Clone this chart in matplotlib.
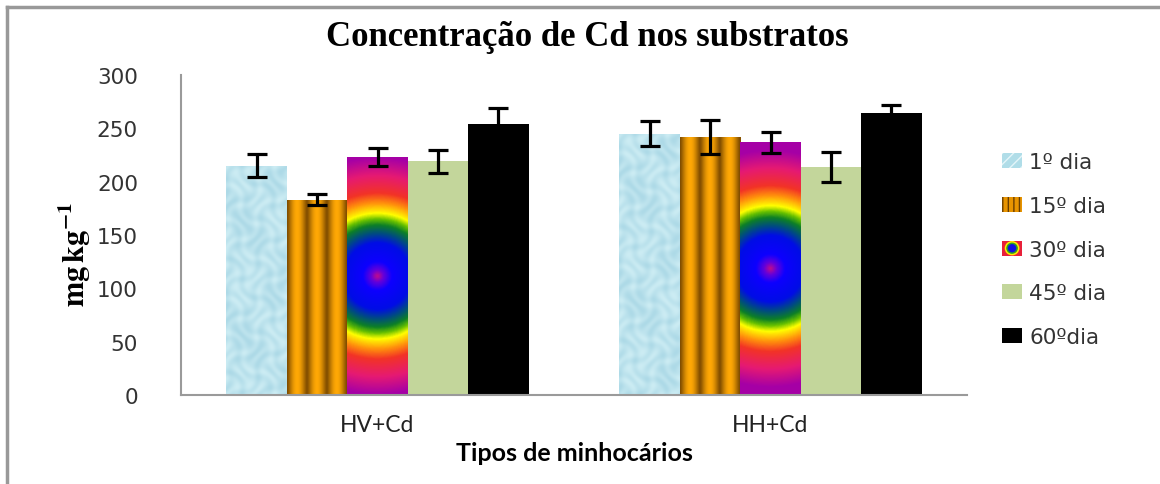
import numpy as np
import matplotlib
matplotlib.use("Agg")
import matplotlib.pyplot as plt
from matplotlib.colors import LinearSegmentedColormap
from matplotlib.patches import Patch, Rectangle, Ellipse
from matplotlib.legend_handler import HandlerBase
from matplotlib.lines import Line2D

# data
grupos = ["HV+Cd", "HH+Cd"]
dias = ["1º dia", "15º dia", "30º dia", "45º dia", "60ºdia"]
media = {
    "1º dia":  [215, 245],
    "15º dia": [183, 242],
    "30º dia": [223, 237],
    "45º dia": [219, 214],
    "60ºdia":  [254, 264],
}
erro = {
    "1º dia":  [11, 12],
    "15º dia": [5, 16],
    "30º dia": [8.5, 10],
    "45º dia": [11, 14],
    "60ºdia":  [15, 8],
}
yticks = [0, 50, 100, 150, 200, 250, 300]

plt.rcParams['mathtext.fontset'] = 'stix'

fig = plt.figure(figsize=(11.6, 4.85), dpi=100)
ax = fig.add_axes([181/1160, 1-396/485, 786/1160, 320/485])
ax.set_xlim(-0.5, 1.5)
ax.set_ylim(0, 300)

largura = 0.1537
x = np.arange(len(grupos))
cores = ["#b7e2ec", "#f0a000", "#e0206a", "#c3d69b", "#000000"]

# px per data unit
ppx = 786/2.0
ppy = 320/300.0

rainbow = LinearSegmentedColormap.from_list("rb", [
    (0.00, (0.75, 0.05, 0.55)),
    (0.05, (0.40, 0.00, 0.85)),
    (0.12, (0.05, 0.00, 1.00)),
    (0.28, (0.00, 0.05, 0.90)),
    (0.36, (0.00, 0.30, 0.50)),
    (0.43, (0.05, 0.50, 0.15)),
    (0.48, (0.40, 0.75, 0.00)),
    (0.53, (1.00, 1.00, 0.00)),
    (0.62, (1.00, 0.55, 0.05)),
    (0.70, (0.95, 0.20, 0.15)),
    (0.85, (0.90, 0.10, 0.45)),
    (1.00, (0.65, 0.00, 0.65)),
])


def textura(k, x0, x1, h):
    nx = int((x1-x0)*ppx)
    ny = max(int(h*ppy), 2)
    u = np.arange(nx)[None, :] + 0.5
    v = np.arange(ny)[:, None] + 0.5  # from top
    u = np.repeat(u, ny, 0)
    v = np.repeat(v, nx, 1)
    if k == 0:
        t = np.sin(u/3.5 + 2*np.sin(v/6.0)) * np.cos(v/4.5 + 1.5*np.sin(u/5.0))
        base = np.array([0.74, 0.89, 0.93])
        img = base[None, None, :] + 0.06*t[:, :, None]*np.array([1, 0.6, 0.4])
    elif k == 1:
        s = 0.5 + 0.5*np.cos(2*np.pi*(u - 10)/19.5)
        dark = np.array([0.50, 0.30, 0.00])
        lite = np.array([1.00, 0.66, 0.02])
        img = dark + (lite-dark)*s[:, :, None]**0.6
    else:
        cx = nx/2.0
        cy = ny/2.0
        r = np.hypot(u-cx, v-cy)/118.0
        img = rainbow(np.clip(r, 0, 1))[:, :, :3]
    return np.clip(img, 0, 1)


for i, d in enumerate(dias):
    pos = x + (i-2)*largura
    barras = ax.bar(pos, media[d], largura, color=cores[i], zorder=2, linewidth=0)
    if i in (0, 1, 2):
        for b in barras:
            x0 = b.get_x()
            x1 = x0 + b.get_width()
            h = b.get_height()
            im = ax.imshow(textura(i, x0, x1, h), extent=(x0, x1, 0, h),
                           aspect='auto', interpolation='bilinear', zorder=2.5)
            im.set_clip_path(b)
    ax.errorbar(pos, media[d], yerr=erro[d], fmt='none', ecolor='black',
                elinewidth=2.3, capsize=7, capthick=2.3, zorder=4)

ax.set_xlim(-0.5, 1.5)
ax.set_ylim(0, 300)

for s in ["top", "right"]:
    ax.spines[s].set_visible(False)
for s in ["left", "bottom"]:
    ax.spines[s].set_color("#9a9a9a")
    ax.spines[s].set_linewidth(1.5)

ax.set_yticks(yticks)
ax.set_yticklabels([str(t) for t in yticks], fontsize=15.5, color="#333333")
ax.tick_params(axis='y', length=0, pad=31)
ax.set_xticks(x)
ax.set_xticklabels(grupos, fontsize=16.5, color="#222222", family="Lato")
ax.tick_params(axis='x', length=0, pad=14)
ax.set_xlabel("Tipos de minhocários", fontsize=18, fontweight='bold', family="Lato", labelpad=4)


class Arco(HandlerBase):
    def create_artists(self, legend, orig_handle, xdescent, ydescent,
                       width, height, fontsize, trans):
        cx = width/2 - xdescent
        cy = height/2 - ydescent
        arts = [Rectangle((-xdescent, -ydescent), width, height, facecolor="#e8203a",
                          edgecolor='none', transform=trans)]
        for f, c in [(0.95, "#ffee00"), (0.75, "#30a020"), (0.55, "#1010e0")]:
            arts.append(Ellipse((cx, cy), width*f*0.8, height*f, facecolor=c,
                                edgecolor='none', transform=trans))
        return arts


class Marca(Patch):
    pass


handles = [
    Patch(facecolor="#b0dde8", edgecolor="#e4f5f9", hatch="///", linewidth=0),
    Patch(facecolor="#e89400", edgecolor="#6a3e00", hatch="|||", linewidth=0),
    Marca(facecolor="#e8203a"),
    Patch(facecolor="#c3d69b", linewidth=0),
    Patch(facecolor="#000000", linewidth=0),
]
leg = fig.legend(handles, dias, loc='upper left', bbox_to_anchor=(983/1160, 1-134/485),
                 frameon=False, fontsize=15.5, handlelength=0.9, handleheight=0.7,
                 handletextpad=0.35, labelspacing=1.1, handler_map={Marca: Arco()})
for t in leg.get_texts():
    t.set_color("#333333")

fig.text(587/1160, 1-38/485, "Concentração de Cd nos substratos", ha='center', va='center',
         fontsize=25, fontweight='bold', family="Liberation Serif")
fig.text(75/1160, 1-255/485, r'$\mathbf{mg\,kg^{-1}}$', rotation=90, ha='center', va='center',
         fontsize=22)

# chart frame (top and left only, the rest is cut off)
fig.add_artist(Line2D([7/1160, 1], [1-8/485, 1-8/485], color="#999999", lw=2.5))
fig.add_artist(Line2D([7/1160, 7/1160], [0, 1-8/485], color="#999999", lw=2.5))

fig.savefig("out.png", dpi=100)
